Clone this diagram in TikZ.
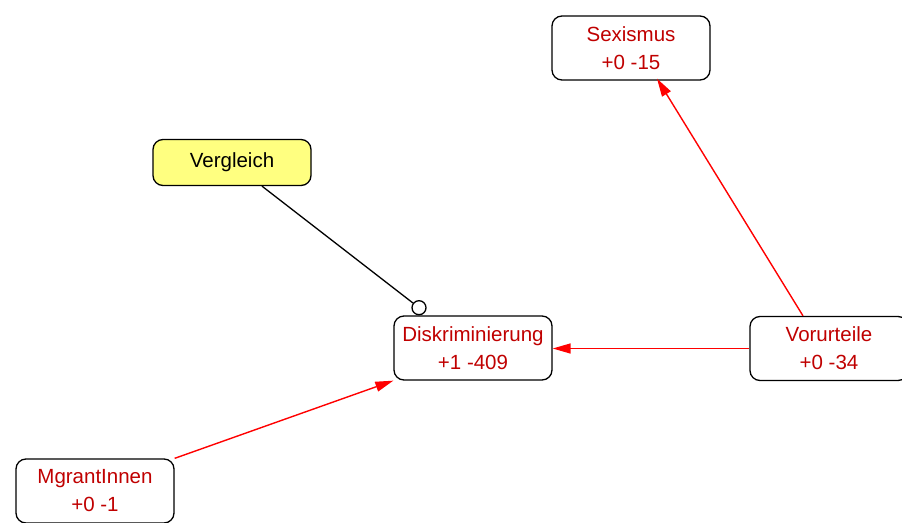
\documentclass[tikz,border=0pt]{standalone}
\usepackage{fontspec}
\setmainfont{Liberation Sans}
\usetikzlibrary{arrows.meta}
\definecolor{labelred}{RGB}{192,0,0}
\definecolor{notefill}{RGB}{255,255,128}
\begin{document}
\begin{tikzpicture}[x=1pt,y=-1pt,
  concept/.style={draw=black, line width=1.3pt, rounded corners=10pt, fill=white,
    minimum width=158pt, minimum height=64pt, align=center, inner sep=0pt,
    text=labelred, font=\fontsize{20.5}{28}\selectfont},
  memo/.style={concept, fill=notefill, text=black, minimum height=46pt},
  link/.style={red, line width=1.4pt, -{Triangle[length=18pt,width=10pt]}},
  assoc/.style={black, line width=1.3pt}]
\useasboundingbox (0,0) rectangle (902,522);
\node[concept] (sex) at (631,48) {Sexismus\\+0 -15};
\node[memo] (ver) at (232,162.5) {Vergleich};
\node[concept] (dis) at (473,348) {Diskriminierung\\+1 -409};
\node[concept] (vor) at (829,348.5) {Vorurteile\\+0 -34};
\node[concept] (mig) at (95,491) {MgrantInnen\\+0 -1};
% association from the memo ends in an open circle on the box
\node[circle, draw=black, line width=1.3pt, fill=white, minimum size=14pt, inner sep=0pt,
  anchor=south] (knob) at ([xshift=-54pt]dis.north) {};
\draw[assoc] ([xshift=30pt]ver.south) -- (knob);
\draw[link] ([xshift=-26pt]vor.north) -- ([xshift=26pt,yshift=2pt]sex.south);
\draw[link] (vor.west) -- (vor.west -| dis.east);
\draw[link] (mig.north east) -- (dis.south west);
\end{tikzpicture}
\end{document}
